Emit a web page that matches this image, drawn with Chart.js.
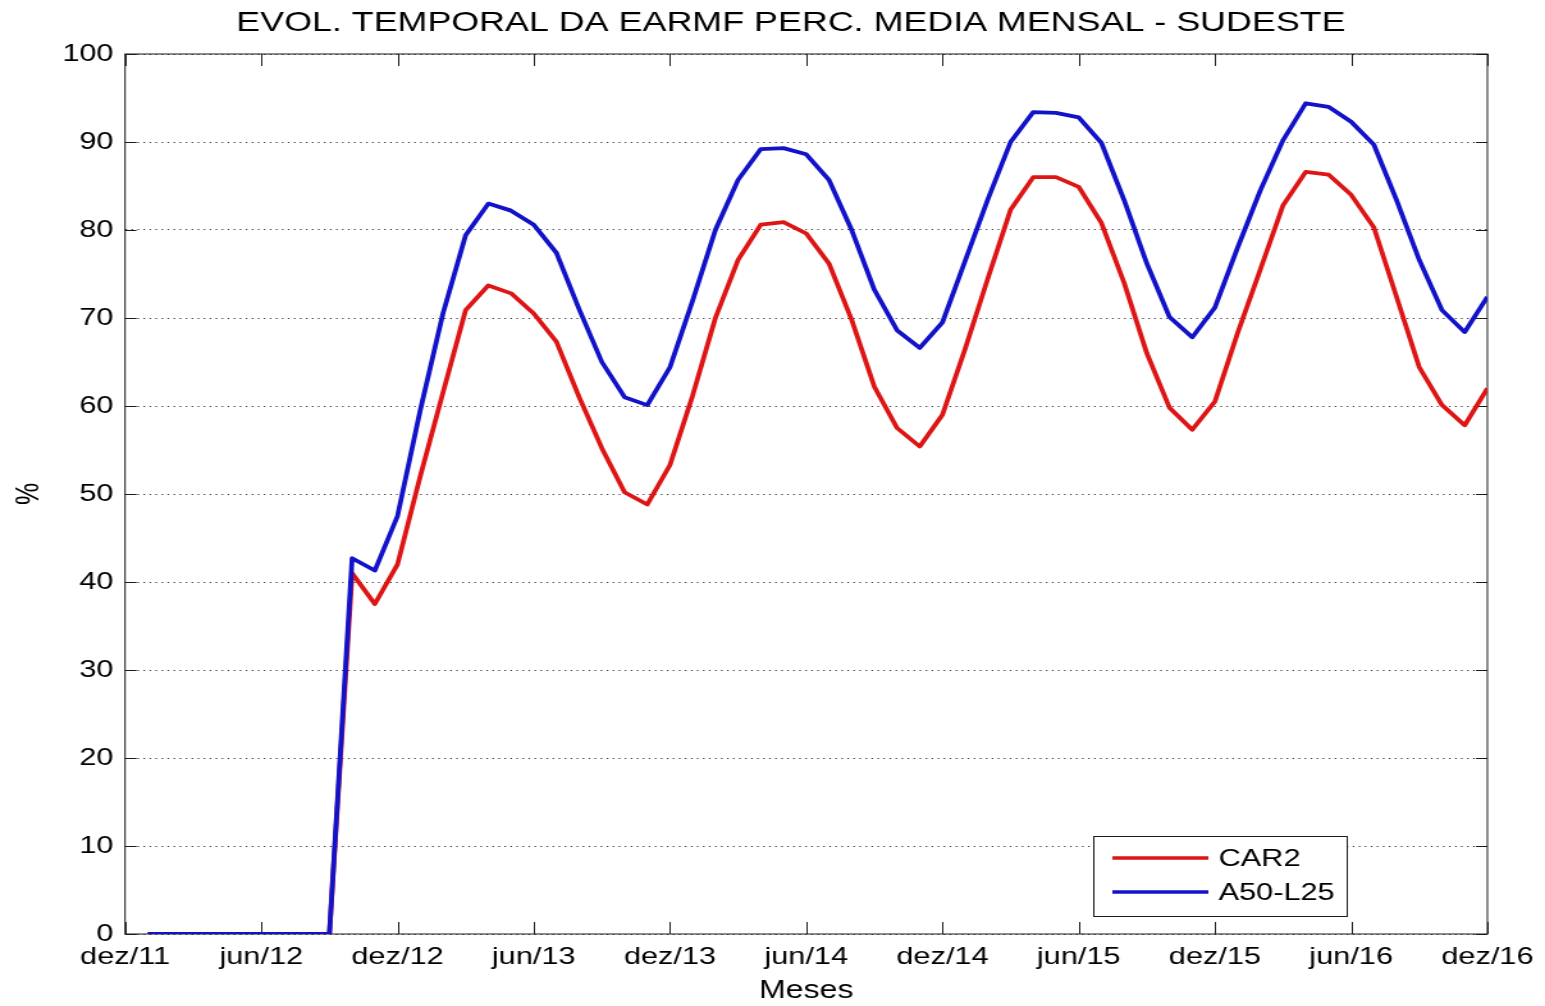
<!DOCTYPE html>
<html>
<head>
<meta charset="utf-8">
<title>EARMF Sudeste</title>
<script src="https://cdn.jsdelivr.net/npm/chart.js@4"></script>
<style>
  html, body { margin: 0; padding: 0; background: #fff; }
  #chart { display: block; }
</style>
</head>
<body>
<!-- the original figure is stretched sideways, so the canvas is drawn narrower and widened by its style -->
<canvas id="chart" width="1207" height="1006" style="width:1545px;height:1006px"></canvas>
<script>
const chartTitle = 'EVOL. TEMPORAL DA EARMF PERC. MEDIA MENSAL - SUDESTE';
const xTickLabels = ['dez/11', 'jun/12', 'dez/12', 'jun/13', 'dez/13', 'jun/14', 'dez/14', 'jun/15', 'dez/15', 'jun/16', 'dez/16'];
const yTicks = [0, 100, 10];

// monthly values, dez/11 .. dez/16
const car2 = [null, 0, 0, 0, 0, 0, 0, 0, 0, 0,
    41.0, 37.5, 42.0, 52.0, 61.5, 70.9, 73.7, 72.8, 70.5, 67.3, 61.0, 55.2, 50.2, 48.8,
    53.3, 61.2, 70.0, 76.6, 80.6, 80.9, 79.6, 76.2, 69.8, 62.2, 57.5, 55.4,
    59.0, 66.5, 74.5, 82.3, 86.0, 86.0, 84.9, 80.8, 74.0, 66.0, 59.8, 57.3,
    60.5, 68.3, 75.5, 82.8, 86.6, 86.3, 84.0, 80.3, 72.4, 64.4, 60.1, 57.8, 62.0];
const a50l25 = [null, 0, 0, 0, 0, 0, 0, 0, 0, 0,
    42.7, 41.3, 47.5, 59.5, 70.5, 79.4, 83.0, 82.2, 80.6, 77.4, 71.0, 65.0, 61.0, 60.1,
    64.4, 72.0, 80.0, 85.7, 89.2, 89.3, 88.6, 85.7, 80.0, 73.2, 68.6, 66.6,
    69.5, 76.5, 83.5, 90.0, 93.4, 93.3, 92.8, 89.9, 83.4, 76.2, 70.1, 67.8,
    71.2, 78.0, 84.5, 90.2, 94.4, 94.0, 92.3, 89.7, 83.4, 76.6, 70.9, 68.4, 72.4];

const seriesNames = ['CAR2', 'A50-L25'];
const seriesColors = ['#dd1515', '#1212c8'];

function toPoints(arr) {
    return arr.map((v, i) => ({ x: i, y: v }));
}

const fontFamily = '"Liberation Sans", Arial, sans-serif';
Chart.defaults.font.family = fontFamily;
Chart.defaults.color = '#000';

const framePlugin = {
    id: 'frame',
    beforeDatasetsDraw(chart) {
        const { ctx, chartArea: ca, scales } = chart;
        ctx.save();
        ctx.strokeStyle = '#1a1a1a';
        ctx.lineWidth = 1;
        ctx.strokeRect(ca.left, ca.top, ca.right - ca.left, ca.bottom - ca.top);
        ctx.beginPath();
        scales.x.ticks.forEach(t => {
            const px = Math.round(scales.x.getPixelForValue(t.value)) + 0.5;
            ctx.moveTo(px, ca.bottom); ctx.lineTo(px, ca.bottom - 12);
            ctx.moveTo(px, ca.top); ctx.lineTo(px, ca.top + 12);
        });
        scales.y.ticks.forEach(t => {
            const py = Math.round(scales.y.getPixelForValue(t.value)) + 0.5;
            ctx.moveTo(ca.left, py); ctx.lineTo(ca.left + 9, py);
            ctx.moveTo(ca.right, py); ctx.lineTo(ca.right - 9, py);
        });
        ctx.stroke();
        ctx.restore();
    },
    afterDraw(chart) {
        const { ctx, chartArea: ca } = chart;
        ctx.save();
        // title, a little left of the axes centre like the original
        ctx.fillStyle = '#000';
        ctx.font = '28px ' + fontFamily;
        ctx.textAlign = 'center';
        ctx.textBaseline = 'middle';
        ctx.fillText(chartTitle, (ca.left + ca.right) / 2 - 12, 23);

        // legend box, bottom right inside the axes
        const boxRight = ca.right - 110, boxLeft = boxRight - 198;
        const boxBottom = ca.bottom - 18, boxTop = boxBottom - 80;
        ctx.fillStyle = '#fff';
        ctx.fillRect(boxLeft, boxTop, boxRight - boxLeft, boxBottom - boxTop);
        ctx.strokeStyle = '#1a1a1a';
        ctx.lineWidth = 1;
        ctx.strokeRect(Math.round(boxLeft) + 0.5, Math.round(boxTop) + 0.5, boxRight - boxLeft, boxBottom - boxTop);
        ctx.font = '24px ' + fontFamily;
        ctx.textAlign = 'left';
        chart.data.datasets.forEach((ds, i) => {
            const y = boxTop + 22 + i * 34;
            ctx.strokeStyle = ds.borderColor;
            ctx.lineWidth = 3.5;
            ctx.beginPath();
            ctx.moveTo(boxLeft + 15, y);
            ctx.lineTo(boxLeft + 90, y);
            ctx.stroke();
            ctx.fillStyle = '#000';
            ctx.fillText(ds.label, boxLeft + 98, y + 1);
        });
        ctx.restore();
    }
};

new Chart(document.getElementById('chart'), {
    type: 'line',
    data: {
        datasets: [
            { label: seriesNames[0], data: toPoints(car2), borderColor: seriesColors[0], order: 1 },
            { label: seriesNames[1], data: toPoints(a50l25), borderColor: seriesColors[1], order: 0 }
        ]
    },
    options: {
        responsive: false,
        animation: false,
        devicePixelRatio: 1,
        layout: { padding: { left: 0, right: 44.5, top: 54, bottom: 0 } },
        elements: {
            line: { borderWidth: 3.8, tension: 0, fill: false, borderJoinStyle: 'round' },
            point: { radius: 0, hoverRadius: 0 }
        },
        plugins: {
            legend: { display: false },
            title: { display: false },
            tooltip: { enabled: false }
        },
        scales: {
            x: {
                type: 'linear',
                min: 0,
                max: 60,
                afterFit(scale) { scale.height = 72; },
                grid: { display: false, drawTicks: false },
                border: { display: false },
                ticks: {
                    stepSize: 6,
                    padding: 9,
                    maxRotation: 0,
                    autoSkip: false,
                    font: { size: 24 },
                    callback: v => xTickLabels[v / 6]
                },
                title: { display: true, text: 'Meses', font: { size: 25 }, padding: { top: 0, bottom: 0 } }
            },
            y: {
                min: yTicks[0],
                max: yTicks[1],
                afterFit(scale) { scale.width = 97.7; },
                grid: { color: '#333', lineWidth: 1, drawTicks: false },
                border: { display: false, dash: [1.2, 3.5] },
                ticks: { stepSize: yTicks[2], padding: 9, font: { size: 24 } },
                title: { display: true, text: '%', font: { size: 25 }, padding: { top: 8.4, bottom: 0 } }
            }
        }
    },
    plugins: [framePlugin]
});
</script>
</body>
</html>
